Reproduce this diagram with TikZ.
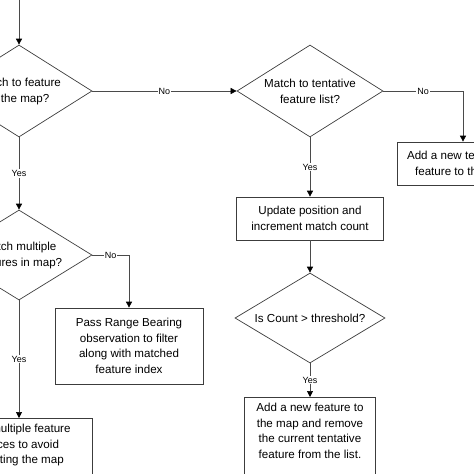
\documentclass[tikz,border=0pt]{standalone}
\usepackage{fontspec}
\setmainfont{Liberation Sans}
\usetikzlibrary{shapes.geometric,arrows.meta}
\definecolor{edgegray}{HTML}{4A4A4A}
\definecolor{boxgray}{HTML}{3C3C3C}
\tikzstyle{block} = [rectangle, draw=boxgray, line width=0.7pt, align=center,
    inner sep=0pt, font=\fontsize{11.6}{15.6}\selectfont]
\tikzstyle{decision} = [diamond, aspect=1.6, draw=boxgray, line width=0.7pt, align=center,
    inner sep=0pt, minimum width=146pt, minimum height=92pt, font=\fontsize{11.6}{16}\selectfont]
\tikzstyle{line} = [draw=edgegray, line width=0.7pt, -{Triangle[length=6pt,width=6pt,color=black]}]
\tikzstyle{lbl} = [fill=white, inner sep=1pt, font=\fontsize{9}{10}\selectfont]

\begin{document}
\begin{tikzpicture}[x=1pt, y=-1pt]
  \useasboundingbox (0,0) rectangle (474,474);
  \clip (0,0) rectangle (474,474);
   % Place nodes
    \coordinate (entry) at (19,-5);
    \node [decision] (inmap) at (19,91) {Match to feature\\in the map?};
    \node [decision] (tentlist) at (310,91) {Match to tentative\\feature list?};
    \node [decision, minimum height=90pt] (multi) at (19,255) {Match multiple\\features in map?};
    \node [decision, minimum width=150pt, minimum height=90pt] (count) at (310,318) {Is Count > threshold?};
    \node [block, minimum width=148pt, minimum height=76pt] (pass) at (129,346)
      {Pass Range Bearing\\observation to filter\\along with matched\\feature index};
    \node [block, minimum width=122pt, minimum height=43pt] (newtent) at (458,163.5)
      {Add a new tentative\\feature to the list};
    \node [block, minimum width=147pt, minimum height=43pt] (update) at (310,218.5)
      {Update position and\\increment match count};
    \node [block, anchor=north, minimum width=131pt, inner ysep=6pt, text depth=60pt] (addfeat) at (310,397)
      {Add a new feature to\\the map and remove\\the current tentative\\feature from the list.};
    \node [block, anchor=north, minimum width=146pt, inner ysep=6pt, text depth=60pt] (usemulti) at (19,418)
      {Use multiple feature\\indices to avoid\\updating the map};
   % Draw edges
    \path [line] (entry) -- (inmap);
    \path [line] (inmap) -- node [lbl] {No} (tentlist);
    \path [line] (inmap) -- node [lbl] {Yes} (multi);
    \path [line] (multi.east) -| node [lbl, pos=0.25] {No} (pass.north);
    \path [line] (multi) -- node [lbl] {Yes} (usemulti);
    \path [line] (tentlist.east) -| node [lbl, pos=0.25] {No} ([xshift=5pt]newtent.north);
    \path [line] (tentlist) -- node [lbl] {Yes} (update);
    \path [line] (update) -- (count);
    \path [line] (count.south) -- node [lbl] {Yes} (addfeat.north);
\end{tikzpicture}
\end{document}
